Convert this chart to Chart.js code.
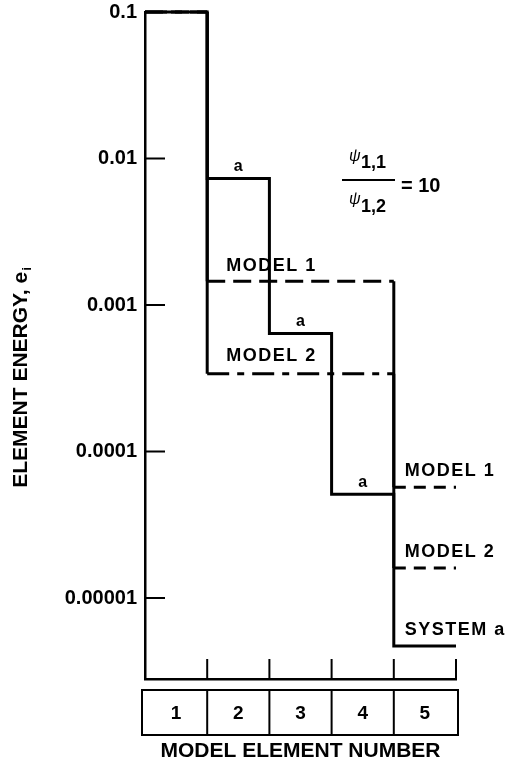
<!DOCTYPE html>
<html>
<head>
<meta charset="utf-8">
<script src="https://cdn.jsdelivr.net/npm/chart.js@4.4.0/dist/chart.umd.min.js"></script>
<style>
  html, body { margin: 0; padding: 0; background: #fff; }
</style>
</head>
<body>
<canvas id="energyChart" width="508" height="764"></canvas>
<script>
// element energies (log scale)
var elementLabels = ["1", "2", "3", "4", "5"];
var systemEnergy = [0.1, 0.0073, 0.00064, 0.000051, 0.0000047];
var model1Energy = [0.1, 0.00145, 0.00145, 0.00145, 0.000057];
var model2Energy = [0.1, 0.00034, 0.00034, 0.00034, 0.000016];
var yTickValues = [0.1, 0.01, 0.001, 0.0001, 0.00001];
var yTickLabels = ["0.1", "0.01", "0.001", "0.0001", "0.00001"];

var FONT = '"Liberation Sans", Arial, sans-serif';
Chart.defaults.font.family = FONT;
Chart.defaults.color = "#000";

// turn per-element values into a step outline (x = element boundaries)
function stepPoints(values) {
  var pts = [];
  for (var i = 0; i < values.length; i++) {
    if (i > 0 && values[i] === values[i - 1]) {
      pts[pts.length - 1].x = i + 1;
      continue;
    }
    pts.push({x: i, y: values[i]});
    pts.push({x: i + 1, y: values[i]});
  }
  return pts;
}

// horizontal parts dashed, vertical parts solid
function modelDash(longDash) {
  return function(ctx) {
    if (ctx.p0.parsed.y !== ctx.p1.parsed.y) return undefined;
    return ctx.p0.parsed.x >= 4 ? [12, 8] : longDash;
  };
}

var lineBase = {
  borderColor: "#000",
  borderWidth: 3,
  pointRadius: 0,
  tension: 0,
  fill: false,
  clip: false,
  borderCapStyle: "butt",
  borderJoinStyle: "miter"
};

var decorations = {
  id: "decorations",
  afterDraw: function(chart) {
    var c = chart.ctx;
    var xs = chart.scales.x;
    var ys = chart.scales.y;
    var area = chart.chartArea;
    c.save();
    c.strokeStyle = "#000";
    c.fillStyle = "#000";

    // inward ticks on the energy axis
    c.lineWidth = 2;
    yTickValues.forEach(function(v) {
      var py = ys.getPixelForValue(v);
      c.beginPath();
      c.moveTo(area.left, py);
      c.lineTo(area.left + 20, py);
      c.stroke();
    });

    // upward ticks at element boundaries
    for (var b = 1; b <= elementLabels.length; b++) {
      var bx = xs.getPixelForValue(b);
      c.beginPath();
      c.moveTo(bx, area.bottom);
      c.lineTo(bx, area.bottom - 20);
      c.stroke();
    }

    // boxed element numbers
    var boxTop = area.bottom + 11, boxBottom = area.bottom + 56;
    var boxLeft = area.left - 3, boxRight = xs.getPixelForValue(5) + 2;
    c.lineWidth = 2;
    c.strokeRect(boxLeft, boxTop, boxRight - boxLeft, boxBottom - boxTop);
    for (var d = 1; d < elementLabels.length; d++) {
      var dx = xs.getPixelForValue(d);
      c.beginPath();
      c.moveTo(dx, boxTop);
      c.lineTo(dx, boxBottom);
      c.stroke();
    }
    c.font = "bold 19px " + FONT;
    c.textAlign = "center";
    c.textBaseline = "middle";
    elementLabels.forEach(function(lab, i) {
      c.fillText(lab, xs.getPixelForValue(i + 0.5), (boxTop + boxBottom) / 2 + 1);
    });

    // "a" marks over the system steps
    c.font = "bold 16px " + FONT;
    for (var k = 1; k <= 3; k++) {
      c.fillText("a", xs.getPixelForValue(k + 0.5), ys.getPixelForValue(systemEnergy[k]) - 12);
    }

    // curve labels
    c.font = "bold 18px " + FONT;
    c.letterSpacing = "1.5px";
    c.textAlign = "left";
    c.fillText("MODEL 1", xs.getPixelForValue(1) + 19, ys.getPixelForValue(model1Energy[1]) - 15);
    c.fillText("MODEL 2", xs.getPixelForValue(1) + 19, ys.getPixelForValue(model2Energy[1]) - 18);
    c.fillText("MODEL 1", xs.getPixelForValue(4) + 11, ys.getPixelForValue(model1Energy[4]) - 16);
    c.fillText("MODEL 2", xs.getPixelForValue(4) + 11, ys.getPixelForValue(model2Energy[4]) - 16);
    c.fillText("SYSTEM a", xs.getPixelForValue(4) + 11, ys.getPixelForValue(systemEnergy[4]) - 16);
    c.letterSpacing = "0px";

    // psi ratio
    c.textBaseline = "alphabetic";
    c.font = "italic 16px " + FONT;
    c.fillText("\u03c8", 349, 161);
    c.fillText("\u03c8", 349, 204);
    c.font = "bold 18px " + FONT;
    c.fillText("1,1", 361, 168);
    c.fillText("1,2", 361, 212);
    c.lineWidth = 2;
    c.beginPath();
    c.moveTo(342, 180);
    c.lineTo(395, 180);
    c.stroke();
    c.font = "bold 20px " + FONT;
    c.fillText("= 10", 401, 192);

    // energy axis title, rotated, with subscript i
    c.translate(21, 378);
    c.rotate(-Math.PI / 2);
    c.font = "bold 21px " + FONT;
    var main = "ELEMENT ENERGY, e";
    var w1 = c.measureText(main).width;
    c.font = "bold 13px " + FONT;
    var w2 = c.measureText("i").width;
    var x0 = -(w1 + w2) / 2;
    c.textBaseline = "middle";
    c.font = "bold 21px " + FONT;
    c.fillText(main, x0, 0);
    c.font = "bold 13px " + FONT;
    c.fillText("i", x0 + w1 + 1, 6);
    c.restore();
  }
};

var energyChart = new Chart(document.getElementById("energyChart"), {
  type: "line",
  data: {
    datasets: [
      Object.assign({label: "System", data: stepPoints(systemEnergy)}, lineBase),
      Object.assign({label: "Model 1", data: stepPoints(model1Energy),
        segment: {borderDash: modelDash([18, 8])}}, lineBase),
      Object.assign({label: "Model 2", data: stepPoints(model2Energy),
        segment: {borderDash: modelDash([22, 8, 7, 8])}}, lineBase)
    ]
  },
  options: {
    responsive: false,
    animation: false,
    devicePixelRatio: 1,
    layout: {padding: {top: 12, right: 52, left: 0, bottom: 0}},
    plugins: {legend: {display: false}, tooltip: {enabled: false}},
    scales: {
      x: {
        type: "linear",
        min: 0,
        max: 5,
        afterFit: function(s) { s.height = 85; },
        grid: {display: false},
        border: {display: true, color: "#000", width: 2.5},
        ticks: {display: false},
        title: {
          display: true,
          text: "MODEL ELEMENT NUMBER",
          color: "#000",
          font: {size: 21, weight: "bold"},
          padding: {top: 0, bottom: 0}
        }
      },
      y: {
        type: "logarithmic",
        min: 0.0000028,
        max: 0.1,
        afterBuildTicks: function(s) {
          s.ticks = yTickValues.map(function(v) { return {value: v}; });
        },
        afterFit: function(s) { s.width = 145; },
        grid: {display: false},
        border: {display: true, color: "#000", width: 2.5},
        ticks: {
          padding: 0,
          color: "#000",
          font: {size: 20, weight: "bold"},
          callback: function(v) { return yTickLabels[yTickValues.indexOf(v)]; }
        }
      }
    }
  },
  plugins: [decorations]
});
</script>
</body>
</html>
